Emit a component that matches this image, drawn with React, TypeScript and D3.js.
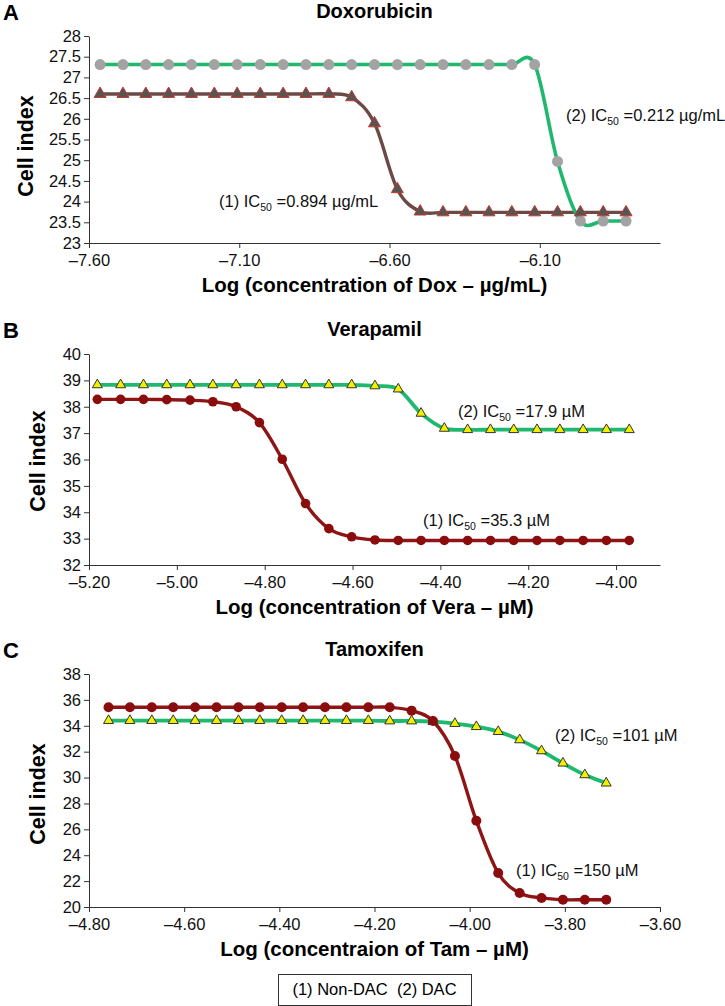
import { useEffect, useRef } from "react";
import * as d3 from "d3";

// ---- data ----
const doxX = [
  -7.563, -7.487, -7.411, -7.335, -7.259, -7.183, -7.107, -7.03, -6.954, -6.878, -6.802, -6.726,
  -6.65, -6.574, -6.498, -6.422, -6.346, -6.269, -6.193, -6.117, -6.041, -5.965, -5.889, -5.813,
];
const doxNonDac = [
  26.6, 26.6, 26.6, 26.6, 26.6, 26.6, 26.6, 26.6, 26.6, 26.6, 26.6, 26.52,
  25.89, 24.3, 23.76, 23.74, 23.74, 23.74, 23.74, 23.74, 23.74, 23.74, 23.74, 23.74,
];
const doxDac = [
  27.31, 27.31, 27.31, 27.31, 27.31, 27.31, 27.31, 27.31, 27.31, 27.31, 27.31, 27.31,
  27.31, 27.31, 27.31, 27.31, 27.31, 27.31, 27.31, 27.31, 24.97, 23.53, 23.53, 23.53,
];

const veraX = [
  -5.181, -5.128, -5.076, -5.023, -4.97, -4.918, -4.865, -4.812, -4.76, -4.707, -4.654, -4.602,
  -4.549, -4.496, -4.444, -4.391, -4.338, -4.286, -4.233, -4.18, -4.128, -4.075, -4.022, -3.97,
];
const veraNonDac = [
  38.28, 38.28, 38.28, 38.27, 38.25, 38.19, 38.0, 37.4, 36.01, 34.33, 33.38, 33.07,
  32.95, 32.93, 32.93, 32.93, 32.93, 32.93, 32.93, 32.93, 32.93, 32.93, 32.93, 32.93,
];
const veraDac = [
  38.83, 38.83, 38.83, 38.83, 38.83, 38.83, 38.83, 38.83, 38.83, 38.83, 38.83, 38.83,
  38.79, 38.67, 37.75, 37.18, 37.13, 37.13, 37.13, 37.13, 37.13, 37.13, 37.13, 37.13,
];

const tamX = [
  -4.759, -4.714, -4.668, -4.623, -4.577, -4.532, -4.486, -4.441, -4.395, -4.35, -4.304, -4.259,
  -4.213, -4.168, -4.122, -4.077, -4.031, -3.986, -3.94, -3.895, -3.849, -3.804, -3.758, -3.713,
];
const tamNonDac = [
  35.43, 35.43, 35.43, 35.43, 35.43, 35.43, 35.43, 35.43, 35.43, 35.43, 35.43, 35.43,
  35.43, 35.43, 35.17, 34.37, 31.67, 26.66, 22.62, 21.08, 20.7, 20.56, 20.56, 20.56,
];
const tamDac = [
  34.4, 34.4, 34.4, 34.4, 34.4, 34.4, 34.4, 34.4, 34.4, 34.4, 34.4, 34.4,
  34.4, 34.37, 34.37, 34.32, 34.17, 33.93, 33.55, 32.91, 32.06, 31.11, 30.21, 29.57,
];

const doxXTicks = [-7.6, -7.1, -6.6, -6.1];
const doxYTicks = [23, 23.5, 24, 24.5, 25, 25.5, 26, 26.5, 27, 27.5, 28];
const veraXTicks = [-5.2, -5.0, -4.8, -4.6, -4.4, -4.2, -4.0];
const veraYTicks = [32, 33, 34, 35, 36, 37, 38, 39, 40];
const tamXTicks = [-4.8, -4.6, -4.4, -4.2, -4.0, -3.8, -3.6];
const tamYTicks = [20, 22, 24, 26, 28, 30, 32, 34, 36, 38];

const W = 725;
const H = 1006;
const X0 = 89;
const X1 = 660;
const FONT = "'Liberation Sans', Arial, Helvetica, sans-serif";

const GREEN = "#1fb86e";
const DARKRED = "#8e1515";

const panels = [
  {
    letter: "A",
    title: "Doxorubicin",
    xLabel: "Log (concentration of Dox \u2013 \u00b5g/mL)",
    top: 36,
    bottom: 243,
    xDomain: [-7.6, -5.7],
    yDomain: [23, 28],
    xTicks: doxXTicks,
    yTicks: doxYTicks,
    yTitleX: 33,
    yTitleY: 146,
    series: [
      { x: doxX, y: doxNonDac, line: "#6b4a46", width: 3.4, marker: "triangle", fill: "#555", stroke: "#c0392b", size: 12 },
      { x: doxX, y: doxDac, line: GREEN, width: 3.6, marker: "circle", fill: "#a3a3a3", stroke: "none", size: 5.5 },
    ],
    markerOrder: [1, 0],
    notes: [
      { x: 219, y: 207, pre: "(1) IC", sub: "50", post: " =0.894 \u00b5g/mL" },
      { x: 566, y: 121, pre: "(2) IC", sub: "50", post: " =0.212 \u00b5g/mL" },
    ],
  },
  {
    letter: "B",
    title: "Verapamil",
    xLabel: "Log (concentration of Vera \u2013 \u00b5M)",
    top: 354,
    bottom: 565,
    xDomain: [-5.2, -3.9],
    yDomain: [32, 40],
    xTicks: veraXTicks,
    yTicks: veraYTicks,
    yTitleX: 45,
    yTitleY: 461,
    series: [
      { x: veraX, y: veraDac, line: GREEN, width: 3.8, marker: "triangle", fill: "#f2ef00", stroke: "#333", size: 10 },
      { x: veraX, y: veraNonDac, line: DARKRED, width: 3.4, marker: "circle", fill: "#8b0c0c", stroke: "none", size: 4.8 },
    ],
    markerOrder: [0, 1],
    notes: [
      { x: 458, y: 417, pre: "(2) IC", sub: "50", post: " =17.9 \u00b5M" },
      { x: 423, y: 526, pre: "(1) IC", sub: "50", post: " =35.3 \u00b5M" },
    ],
  },
  {
    letter: "C",
    title: "Tamoxifen",
    xLabel: "Log (concentraion of Tam \u2013 \u00b5M)",
    top: 674,
    bottom: 907,
    xDomain: [-4.8, -3.6],
    yDomain: [20, 38],
    xTicks: tamXTicks,
    yTicks: tamYTicks,
    yTitleX: 45,
    yTitleY: 794,
    series: [
      { x: tamX, y: tamDac, line: GREEN, width: 3.8, marker: "triangle", fill: "#f2ef00", stroke: "#333", size: 10 },
      { x: tamX, y: tamNonDac, line: DARKRED, width: 3.4, marker: "circle", fill: "#8b0c0c", stroke: "none", size: 5 },
    ],
    markerOrder: [0, 1],
    notes: [
      { x: 555, y: 741, pre: "(2) IC", sub: "50", post: " =101 \u00b5M" },
      { x: 516, y: 876, pre: "(1) IC", sub: "50", post: " =150 \u00b5M" },
    ],
  },
];

const fmtX = (v) => v.toFixed(2).replace("-", "\u2013");

const Panel = ({ p }) => {
  const ref = useRef(null);

  useEffect(() => {
    const g = d3.select(ref.current).html("");
    const x = d3.scaleLinear().domain(p.xDomain).range([X0, X1]);
    const y = d3.scaleLinear().domain(p.yDomain).range([p.bottom, p.top]);

    // axes
    const xAxis = g
      .append("g")
      .attr("transform", `translate(0,${p.bottom})`)
      .call(d3.axisBottom(x).tickValues(p.xTicks).tickFormat(fmtX).tickSize(5).tickSizeOuter(0).tickPadding(6));
    const yAxis = g
      .append("g")
      .attr("transform", `translate(${X0},0)`)
      .call(d3.axisLeft(y).tickValues(p.yTicks).tickFormat((d) => String(d)).tickSize(5).tickSizeOuter(0).tickPadding(3));
    [xAxis, yAxis].forEach((a) => {
      a.attr("font-family", FONT).attr("font-size", 16.5);
      a.selectAll("path,line").attr("stroke", "#333");
      a.selectAll("text").attr("fill", "#111");
    });

    // lines
    const lineGen = (s) =>
      d3
        .line()
        .x((d, i) => x(s.x[i]))
        .y((d) => y(d))
        .curve(d3.curveCardinal.tension(0));
    p.series.forEach((s) => {
      g.append("path")
        .attr("d", lineGen(s)(s.y))
        .attr("fill", "none")
        .attr("stroke", s.line)
        .attr("stroke-width", s.width);
    });

    // markers
    p.markerOrder.forEach((k) => {
      const s = p.series[k];
      const pts = s.y.map((v, i) => [x(s.x[i]), y(v)]);
      if (s.marker === "circle") {
        g.append("g")
          .selectAll("circle")
          .data(pts)
          .join("circle")
          .attr("cx", (d) => d[0])
          .attr("cy", (d) => d[1])
          .attr("r", s.size)
          .attr("fill", s.fill);
      } else {
        const sym = d3.symbol(d3.symbolTriangle, (s.size * s.size * Math.sqrt(3)) / 4);
        g.append("g")
          .selectAll("path")
          .data(pts)
          .join("path")
          .attr("transform", (d) => `translate(${d[0]},${d[1]})`)
          .attr("d", sym())
          .attr("fill", s.fill)
          .attr("stroke", s.stroke)
          .attr("stroke-width", 1);
      }
    });
  }, [p]);

  const cx = (X0 + X1) / 2;
  return (
    <g fontFamily={FONT}>
      <text x={3} y={p.top - 16} fontSize={22} fontWeight="bold">
        {p.letter}
      </text>
      <text x={cx} y={p.top - 18} fontSize={20} fontWeight="bold" textAnchor="middle">
        {p.title}
      </text>
      <text
        transform={`translate(${p.yTitleX},${p.yTitleY}) rotate(-90)`}
        fontSize={21.5}
        fontWeight="bold"
        textAnchor="middle"
      >
        Cell index
      </text>
      <text x={cx} y={p.bottom + 49} fontSize={20.5} fontWeight="bold" textAnchor="middle">
        {p.xLabel}
      </text>
      <g ref={ref} />
      {p.notes.map((n, i) => (
        <text key={i} x={n.x} y={n.y} fontSize={16.5} fill="#111">
          {n.pre}
          <tspan fontSize={10.5} dy={4}>
            {n.sub}
          </tspan>
          <tspan dy={-4}>{n.post}</tspan>
        </text>
      ))}
    </g>
  );
};

export default function App() {
  return (
    <div style={{ position: "absolute", left: 0, top: 0 }}>
      <svg width={W} height={H} style={{ display: "block", background: "#fff" }}>
        {panels.map((p) => (
          <Panel key={p.letter} p={p} />
        ))}
        <rect x={278.5} y={974.5} width={193} height={31} fill="none" stroke="#333" strokeWidth={1} />
        <text x={374.5} y={995} fontFamily={FONT} fontSize={16.5} textAnchor="middle" style={{ whiteSpace: "pre" }}>
          {"(1) Non-DAC  (2) DAC"}
        </text>
      </svg>
    </div>
  );
}
